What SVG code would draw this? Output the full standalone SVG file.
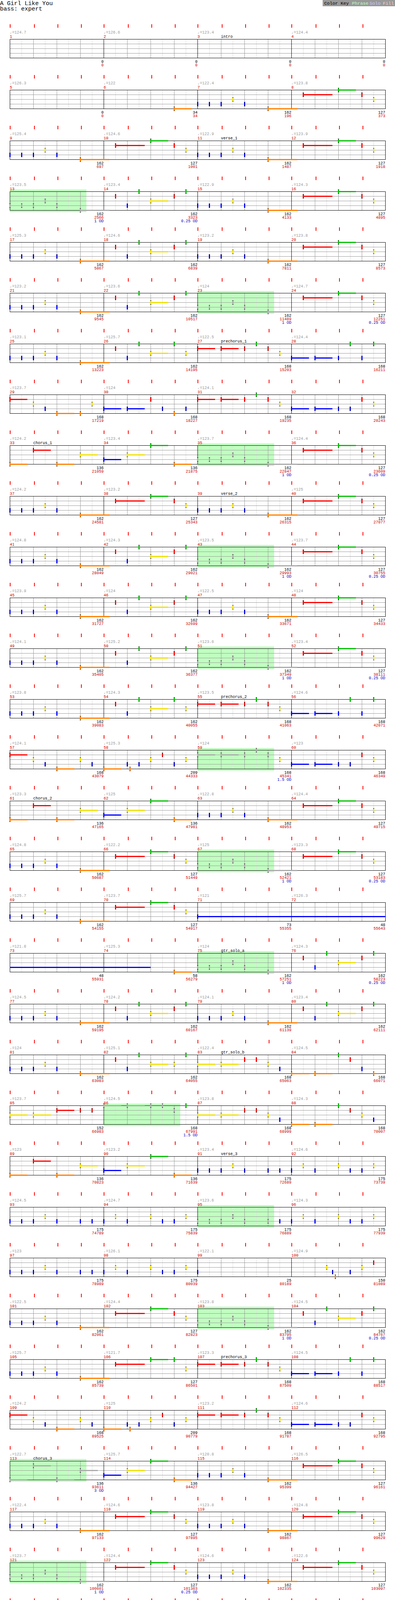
<svg xmlns="http://www.w3.org/2000/svg" width="1010" height="5055" viewBox="0 0 1010 5055">
<style>
text{font-family:"Liberation Mono","DejaVu Sans Mono",monospace;font-size:10px;fill:#000}
.tp{fill:#999}
.mn{fill:#c00}
.s0{text-anchor:end}
.s1{text-anchor:end;fill:#c00}
.od{text-anchor:end;fill:#00c}
.big{font-size:15px}
.mid{font-size:11.67px}
.cG{fill:#00c000}.cR{fill:#f00}.cY{fill:#f0e000}.cB{fill:#00f}.cO{fill:#ff8000}.cS{fill:#aaa}
.tk{fill:#f00}
.box{fill:#c0ffc0}
</style>
<defs>
<g id="nG"><rect class="cG" x="-1" y="-5.5" width="3" height="11"/><rect x="-1" y="-5.5" width="3" height="1"/><rect x="-1" y="4.5" width="3" height="1"/></g>
<g id="nR"><rect class="cR" x="-1" y="-5.5" width="3" height="11"/><rect x="-1" y="-5.5" width="3" height="1"/><rect x="-1" y="4.5" width="3" height="1"/></g>
<g id="nY"><rect class="cY" x="-1" y="-5.5" width="3" height="11"/><rect x="-1" y="-5.5" width="3" height="1"/><rect x="-1" y="4.5" width="3" height="1"/></g>
<g id="nB"><rect class="cB" x="-1" y="-5.5" width="3" height="11"/><rect x="-1" y="-5.5" width="3" height="1"/><rect x="-1" y="4.5" width="3" height="1"/></g>
<g id="nO"><rect class="cO" x="-1" y="-5.5" width="3" height="11"/><rect x="-1" y="-5.5" width="3" height="1"/><rect x="-1" y="4.5" width="3" height="1"/></g>
<g id="nS"><rect class="cS" x="-1" y="-5.5" width="3" height="11"/><rect x="-1" y="-5.5" width="3" height="1"/><rect x="-1" y="4.5" width="3" height="1"/></g>
<g id="grid">
<path d="M30.5 0V48M90.5 0V48M150.5 0V48M210.5 0V48" stroke="#ddd" fill="none"/>
<path d="M60.5 0V48M120.5 0V48M180.5 0V48M0 12.5H240M0 24.5H240M0 36.5H240" stroke="#999" fill="none"/>
</g>
<g id="tk"><rect class="tk" x="0" y="-38" width="2" height="9"/><rect class="tk" x="62" y="-38" width="2" height="9"/><rect class="tk" x="122" y="-38" width="2" height="9"/><rect class="tk" x="182" y="-38" width="2" height="9"/></g>
<g id="frame">
<use href="#tk" x="25"/><use href="#tk" x="265"/><use href="#tk" x="505"/><use href="#tk" x="745"/>
<use href="#grid" x="25"/><use href="#grid" x="265"/><use href="#grid" x="505"/><use href="#grid" x="745"/>
<rect x="25.5" y="0.5" width="960" height="48" fill="none" stroke="#000"/>
<path d="M265.5 0V48M505.5 0V48M745.5 0V48" stroke="#000" fill="none"/>
</g>
<g id="frame1">
<use href="#tk" x="25"/><use href="#grid" x="25"/>
<rect x="25.5" y="0.5" width="240" height="48" fill="none" stroke="#000"/>
</g>
<g id="pA"><rect class="cO" x="180" y="47" width="75" height="3"/><use href="#nB" y="36.5"/><use href="#nB" x="30" y="36.5"/><use href="#nB" x="60" y="36.5"/><use href="#nY" x="90" y="24.5"/><use href="#nB" x="120" y="36.5"/><use href="#nO" x="180" y="48.5"/></g>
<g id="pAs"><rect class="cS" x="180" y="47" width="75" height="3"/><use href="#nS" y="36.5"/><use href="#nS" x="30" y="36.5"/><use href="#nS" x="60" y="36.5"/><use href="#nS" x="90" y="24.5"/><use href="#nS" x="120" y="36.5"/><use href="#nS" x="180" y="48.5"/></g>
<g id="pA0"><use href="#nB" y="36.5"/><use href="#nB" x="30" y="36.5"/><use href="#nB" x="60" y="36.5"/><use href="#nY" x="90" y="24.5"/><use href="#nB" x="120" y="36.5"/></g>
<g id="pB"><rect class="cR" x="30" y="11" width="75" height="3"/><rect class="cG" x="120" y="-1" width="45" height="3"/><use href="#nR" x="30" y="12.5"/><use href="#nG" x="120" y="0.5"/><use href="#nR" x="180" y="12.5"/><use href="#nY" x="210" y="24.5"/></g>
<g id="pB2"><rect class="cR" x="30" y="11" width="75" height="3"/><rect class="cG" x="120" y="-1" width="45" height="3"/><use href="#nR" x="30" y="12.5"/><use href="#nG" x="120" y="0.5"/><use href="#nG" x="180" y="0.5"/><use href="#nY" x="210" y="24.5"/></g>
<g id="pE"><rect class="cY" x="120" y="23" width="45" height="3"/><use href="#nR" x="30" y="12.5"/><use href="#nB" x="60" y="36.5"/><use href="#nG" x="90" y="0.5"/><use href="#nY" x="120" y="24.5"/><use href="#nR" x="180" y="12.5"/><use href="#nG" x="210" y="0.5"/></g>
<g id="pE2"><rect class="cY" x="120" y="23" width="45" height="3"/><use href="#nR" x="30" y="12.5"/><use href="#nB" x="60" y="36.5"/><use href="#nG" x="90" y="0.5"/><use href="#nY" x="120" y="24.5"/><use href="#nG" x="180" y="0.5"/><use href="#nY" x="210" y="24.5"/></g>
<g id="pE3"><rect class="cY" x="120" y="23" width="45" height="3"/><use href="#nR" x="30" y="12.5"/><use href="#nB" x="60" y="36.5"/><use href="#nG" x="90" y="0.5"/><use href="#nY" x="120" y="24.5"/><use href="#nY" x="180" y="24.5"/><use href="#nG" x="210" y="0.5"/></g>
<g id="pF"><use href="#nR" x="30" y="12.5"/><use href="#nB" x="60" y="36.5"/><use href="#nG" x="90" y="0.5"/><use href="#nY" x="120" y="24.5"/><use href="#nG" x="150" y="0.5"/><use href="#nR" x="180" y="12.5"/><use href="#nG" x="210" y="0.5"/></g>
<g id="pP1"><rect class="cR" x="0" y="11" width="45" height="3"/><rect class="cR" x="60" y="11" width="45" height="3"/><use href="#nR" y="12.5"/><use href="#nR" x="60" y="12.5"/><use href="#nR" x="120" y="12.5"/><use href="#nG" x="150" y="0.5"/><use href="#nR" x="180" y="12.5"/><use href="#nY" x="210" y="24.5"/></g>
<g id="pP1s"><rect class="cS" x="0" y="11" width="45" height="3"/><rect class="cS" x="60" y="11" width="45" height="3"/><use href="#nS" y="12.5"/><use href="#nS" x="60" y="12.5"/><use href="#nS" x="120" y="12.5"/><use href="#nS" x="150" y="0.5"/><use href="#nS" x="180" y="12.5"/><use href="#nY" x="210" y="24.5"/></g>
<g id="pP2"><rect class="cB" x="0" y="35" width="45" height="3"/><rect class="cB" x="60" y="35" width="45" height="3"/><use href="#nB" y="36.5"/><use href="#nB" x="60" y="36.5"/><use href="#nB" x="120" y="36.5"/><use href="#nG" x="150" y="0.5"/><use href="#nB" x="180" y="36.5"/><use href="#nG" x="210" y="0.5"/></g>
<g id="pP3"><rect class="cB" x="0" y="35" width="45" height="3"/><rect class="cB" x="60" y="35" width="45" height="3"/><use href="#nB" y="36.5"/><use href="#nB" x="60" y="36.5"/><use href="#nB" x="120" y="36.5"/><use href="#nB" x="150" y="36.5"/><use href="#nR" x="180" y="12.5"/><use href="#nY" x="210" y="24.5"/></g>
<g id="pQ1"><rect class="cR" x="0" y="11" width="45" height="3"/><rect class="cO" x="120" y="47" width="45" height="3"/><use href="#nR" y="12.5"/><use href="#nY" x="60" y="24.5"/><use href="#nB" x="90" y="36.5"/><use href="#nO" x="120" y="48.5"/><use href="#nO" x="180" y="48.5"/><use href="#nY" x="210" y="24.5"/></g>
<g id="pQ2"><rect class="cB" x="0" y="35" width="45" height="3"/><rect class="cB" x="60" y="35" width="45" height="3"/><use href="#nB" y="36.5"/><use href="#nB" x="60" y="36.5"/><use href="#nR" x="120" y="12.5"/><use href="#nB" x="150" y="36.5"/><use href="#nO" x="180" y="48.5"/><use href="#nB" x="210" y="36.5"/></g>
<g id="pQ3"><rect class="cR" x="0" y="11" width="45" height="3"/><rect class="cO" x="120" y="47" width="45" height="3"/><use href="#nR" y="12.5"/><use href="#nY" x="60" y="24.5"/><use href="#nB" x="90" y="36.5"/><use href="#nO" x="120" y="48.5"/><use href="#nY" x="180" y="24.5"/><use href="#nB" x="210" y="36.5"/></g>
<g id="pQ4"><rect class="cO" x="0" y="47" width="45" height="3"/><use href="#nO" y="48.5"/><use href="#nB" x="60" y="36.5"/><use href="#nO" x="67" y="48.5"/><use href="#nB" x="90" y="36.5"/><use href="#nY" x="120" y="24.5"/><use href="#nR" x="150" y="12.5"/><use href="#nB" x="180" y="36.5"/><use href="#nY" x="210" y="24.5"/></g>
<g id="pC1"><rect class="cO" x="0" y="47" width="45" height="3"/><rect class="cR" x="60" y="11" width="45" height="3"/><rect class="cO" x="120" y="47" width="45" height="3"/><rect class="cY" x="180" y="23" width="45" height="3"/><use href="#nO" y="48.5"/><use href="#nR" x="60" y="12.5"/><use href="#nO" x="120" y="48.5"/><use href="#nY" x="180" y="24.5"/></g>
<g id="pC1s"><rect class="cS" x="0" y="47" width="45" height="3"/><rect class="cS" x="60" y="11" width="45" height="3"/><rect class="cS" x="120" y="47" width="45" height="3"/><rect class="cS" x="180" y="23" width="45" height="3"/><use href="#nS" y="48.5"/><use href="#nS" x="60" y="12.5"/><use href="#nS" x="120" y="48.5"/><use href="#nS" x="180" y="24.5"/></g>
<g id="pC2"><rect class="cB" x="0" y="35" width="45" height="3"/><rect class="cY" x="60" y="23" width="45" height="3"/><rect class="cG" x="120" y="-1" width="45" height="3"/><rect class="cO" x="180" y="47" width="45" height="3"/><use href="#nB" y="36.5"/><use href="#nY" x="60" y="24.5"/><use href="#nG" x="120" y="0.5"/><use href="#nO" x="180" y="48.5"/></g>
<g id="pS1"><rect class="cY" x="0" y="23" width="45" height="3"/><rect class="cY" x="60" y="23" width="45" height="3"/><use href="#nY" y="24.5"/><use href="#nY" x="60" y="24.5"/><use href="#nR" x="120" y="12.5"/><use href="#nR" x="150" y="12.5"/><use href="#nY" x="180" y="24.5"/><use href="#nB" x="210" y="36.5"/></g>
<g id="pS2"><rect class="cO" x="0" y="47" width="45" height="3"/><rect class="cO" x="60" y="47" width="45" height="3"/><use href="#nO" y="48.5"/><use href="#nO" x="60" y="48.5"/><use href="#nG" x="120" y="0.5"/><use href="#nR" x="150" y="12.5"/><use href="#nB" x="180" y="36.5"/><use href="#nO" x="210" y="48.5"/></g>
<g id="pS3"><rect class="cO" x="0" y="47" width="45" height="3"/><rect class="cO" x="60" y="47" width="45" height="3"/><use href="#nO" y="48.5"/><use href="#nO" x="60" y="48.5"/><use href="#nG" x="120" y="0.5"/><use href="#nR" x="150" y="12.5"/><use href="#nY" x="180" y="24.5"/><use href="#nB" x="210" y="36.5"/></g>
<g id="pS4"><rect class="cY" x="0" y="23" width="45" height="3"/><rect class="cY" x="60" y="23" width="45" height="3"/><rect class="cR" x="120" y="11" width="45" height="3"/><use href="#nY" y="24.5"/><use href="#nY" x="60" y="24.5"/><use href="#nR" x="120" y="12.5"/><use href="#nR" x="180" y="12.5"/><use href="#nR" x="210" y="12.5"/></g>
<g id="pS5s"><rect class="cS" x="0" y="-1" width="45" height="3"/><rect class="cS" x="60" y="-1" width="45" height="3"/><use href="#nS" y="0.5"/><use href="#nS" x="60" y="0.5"/><use href="#nS" x="120" y="0.5"/><use href="#nS" x="150" y="0.5"/><use href="#nS" x="180" y="12.5"/><use href="#nG" x="210" y="0.5"/></g>
<g id="pV1"><use href="#nB" y="36.5"/><use href="#nB" x="30" y="36.5"/><use href="#nB" x="60" y="36.5"/><use href="#nY" x="90" y="24.5"/><use href="#nB" x="120" y="36.5"/><use href="#nB" x="180" y="36.5"/><use href="#nB" x="210" y="36.5"/></g>
<g id="pV1s"><use href="#nS" y="36.5"/><use href="#nS" x="30" y="36.5"/><use href="#nS" x="60" y="36.5"/><use href="#nS" x="90" y="24.5"/><use href="#nS" x="120" y="36.5"/><use href="#nS" x="180" y="36.5"/><use href="#nB" x="210" y="36.5"/></g>
<g id="pV2"><use href="#nB" y="36.5"/><use href="#nY" x="30" y="24.5"/><use href="#nB" x="60" y="36.5"/><use href="#nY" x="120" y="24.5"/><use href="#nB" x="150" y="36.5"/><use href="#nB" x="180" y="36.5"/><use href="#nY" x="210" y="24.5"/></g>
</defs>
<rect width="1010" height="5055" fill="#fff"/>
<g id="header">
<text class="big" x="0" y="13">A Girl Like You</text>
<text class="big" x="0" y="27">bass: expert</text>
<rect x="825" y="0" width="185" height="16" fill="#999"/>
<text class="mid" x="829" y="12">Color Key</text>
<text class="mid" x="900" y="12" style="fill:#c0ffc0">Phrase</text>
<text class="mid" x="945" y="12" style="fill:#ccf">Solo</text>
<text class="mid" x="979" y="12" style="fill:#fcc">Fill</text>
</g>

<g id="row-1" transform="translate(0,100)">
<use href="#frame"/>
<text class="tp" x="25" y="-14">♩=124.7</text><text class="tp" x="265" y="-14">♩=126.6</text><text class="tp" x="505" y="-14">♩=123.4</text><text class="tp" x="745" y="-14">♩=124.4</text>
<text class="mn" x="25" y="-3">1</text><text class="mn" x="265" y="-3">2</text><text class="mn" x="505" y="-3">3</text><text class="mn" x="745" y="-3">4</text>
<text x="565" y="-3">intro</text>
<text class="s0" x="265" y="61">0</text><text class="s1" x="265" y="70">0</text><text class="s0" x="505" y="61">0</text><text class="s1" x="505" y="70">0</text><text class="s0" x="745" y="61">0</text><text class="s1" x="745" y="70">0</text><text class="s0" x="985" y="61">0</text><text class="s1" x="985" y="70">0</text>
</g>

<g id="row-2" transform="translate(0,230)">
<use href="#frame"/>
<rect class="cO" x="445" y="47" width="45" height="3"/><use href="#nO" x="445" y="48.5"/>
<use href="#pA" x="505"/><use href="#pB" x="745"/>
<text class="tp" x="25" y="-14">♩=126.3</text><text class="tp" x="265" y="-14">♩=122</text><text class="tp" x="505" y="-14">♩=122.4</text><text class="tp" x="745" y="-14">♩=123.8</text>
<text class="mn" x="25" y="-3">5</text><text class="mn" x="265" y="-3">6</text><text class="mn" x="505" y="-3">7</text><text class="mn" x="745" y="-3">8</text>
<text class="s0" x="265" y="61">0</text><text class="s1" x="265" y="70">0</text><text class="s0" x="505" y="61">34</text><text class="s1" x="505" y="70">34</text><text class="s0" x="745" y="61">162</text><text class="s1" x="745" y="70">196</text><text class="s0" x="985" y="61">127</text><text class="s1" x="985" y="70">373</text>
</g>

<g id="row-3" transform="translate(0,360)">
<use href="#frame"/>
<use href="#pA" x="25"/><use href="#pB" x="265"/><use href="#pA" x="505"/><use href="#pB" x="745"/>
<text class="tp" x="25" y="-14">♩=125.4</text><text class="tp" x="265" y="-14">♩=124.6</text><text class="tp" x="505" y="-14">♩=122.9</text><text class="tp" x="745" y="-14">♩=123.9</text>
<text class="mn" x="25" y="-3">9</text><text class="mn" x="265" y="-3">10</text><text class="mn" x="505" y="-3">11</text><text class="mn" x="745" y="-3">12</text>
<text x="565" y="-3">verse_1</text>
<text class="s0" x="265" y="61">162</text><text class="s1" x="265" y="70">697</text><text class="s0" x="505" y="61">127</text><text class="s1" x="505" y="70">1001</text><text class="s0" x="745" y="61">162</text><text class="s1" x="745" y="70">1487</text><text class="s0" x="985" y="61">127</text><text class="s1" x="985" y="70">1918</text>
</g>

<g id="row-4" transform="translate(0,490)">
<rect class="box" x="25" y="-5" width="196" height="58"/>
<use href="#frame"/>
<use href="#pAs" x="25"/><use href="#pE" x="265"/><use href="#pA" x="505"/><use href="#pB" x="745"/>
<text class="tp" x="25" y="-14">♩=123.5</text><text class="tp" x="265" y="-14">♩=123.4</text><text class="tp" x="505" y="-14">♩=122.9</text><text class="tp" x="745" y="-14">♩=124.3</text>
<text class="mn" x="25" y="-3">13</text><text class="mn" x="265" y="-3">14</text><text class="mn" x="505" y="-3">15</text><text class="mn" x="745" y="-3">16</text>
<text class="s0" x="265" y="61">162</text><text class="s1" x="265" y="70">2566</text><text class="s0" x="505" y="61">162</text><text class="s1" x="505" y="70">3323</text><text class="s0" x="745" y="61">162</text><text class="s1" x="745" y="70">4133</text><text class="s0" x="985" y="61">127</text><text class="s1" x="985" y="70">4895</text>
<text class="od" x="265" y="79">1 OD</text><text class="od" x="505" y="79">0.25 OD</text>
</g>

<g id="row-5" transform="translate(0,620)">
<use href="#frame"/>
<use href="#pA" x="25"/><use href="#pE" x="265"/><use href="#pA" x="505"/><use href="#pB" x="745"/>
<text class="tp" x="25" y="-14">♩=125.3</text><text class="tp" x="265" y="-14">♩=124.6</text><text class="tp" x="505" y="-14">♩=123.2</text><text class="tp" x="745" y="-14">♩=123.8</text>
<text class="mn" x="25" y="-3">17</text><text class="mn" x="265" y="-3">18</text><text class="mn" x="505" y="-3">19</text><text class="mn" x="745" y="-3">20</text>
<text class="s0" x="265" y="61">162</text><text class="s1" x="265" y="70">5867</text><text class="s0" x="505" y="61">162</text><text class="s1" x="505" y="70">6839</text><text class="s0" x="745" y="61">162</text><text class="s1" x="745" y="70">7811</text><text class="s0" x="985" y="61">127</text><text class="s1" x="985" y="70">8573</text>
</g>

<g id="row-6" transform="translate(0,750)">
<rect class="box" x="505" y="-5" width="196" height="58"/>
<use href="#frame"/>
<use href="#pA" x="25"/><use href="#pE" x="265"/><use href="#pAs" x="505"/><use href="#pB" x="745"/>
<text class="tp" x="25" y="-14">♩=123.2</text><text class="tp" x="265" y="-14">♩=123.6</text><text class="tp" x="505" y="-14">♩=124</text><text class="tp" x="745" y="-14">♩=124.7</text>
<text class="mn" x="25" y="-3">21</text><text class="mn" x="265" y="-3">22</text><text class="mn" x="505" y="-3">23</text><text class="mn" x="745" y="-3">24</text>
<text class="s0" x="265" y="61">162</text><text class="s1" x="265" y="70">9545</text><text class="s0" x="505" y="61">162</text><text class="s1" x="505" y="70">10517</text><text class="s0" x="745" y="61">162</text><text class="s1" x="745" y="70">11489</text><text class="s0" x="985" y="61">127</text><text class="s1" x="985" y="70">12251</text>
<text class="od" x="745" y="79">1 OD</text><text class="od" x="985" y="79">0.25 OD</text>
</g>

<g id="row-7" transform="translate(0,880)">
<use href="#frame"/>
<use href="#pA" x="25"/><use href="#pE2" x="265"/><use href="#pP1" x="505"/><use href="#pP2" x="745"/>
<text class="tp" x="25" y="-14">♩=123.1</text><text class="tp" x="265" y="-14">♩=125.7</text><text class="tp" x="505" y="-14">♩=122.5</text><text class="tp" x="745" y="-14">♩=124.4</text>
<text class="mn" x="25" y="-3">25</text><text class="mn" x="265" y="-3">26</text><text class="mn" x="505" y="-3">27</text><text class="mn" x="745" y="-3">28</text>
<text x="565" y="-3">prechorus_1</text>
<text class="s0" x="265" y="61">162</text><text class="s1" x="265" y="70">13223</text><text class="s0" x="505" y="61">162</text><text class="s1" x="505" y="70">14195</text><text class="s0" x="745" y="61">168</text><text class="s1" x="745" y="70">15203</text><text class="s0" x="985" y="61">168</text><text class="s1" x="985" y="70">16211</text>
</g>

<g id="row-8" transform="translate(0,1010)">
<use href="#frame"/>
<use href="#pQ1" x="25"/><use href="#pQ2" x="265"/><use href="#pP1" x="505"/><use href="#pP3" x="745"/>
<text class="tp" x="25" y="-14">♩=123.7</text><text class="tp" x="265" y="-14">♩=124</text><text class="tp" x="505" y="-14">♩=124.1</text>
<text class="mn" x="25" y="-3">29</text><text class="mn" x="265" y="-3">30</text><text class="mn" x="505" y="-3">31</text><text class="mn" x="745" y="-3">32</text>
<text class="s0" x="265" y="61">168</text><text class="s1" x="265" y="70">17219</text><text class="s0" x="505" y="61">168</text><text class="s1" x="505" y="70">18227</text><text class="s0" x="745" y="61">168</text><text class="s1" x="745" y="70">19235</text><text class="s0" x="985" y="61">168</text><text class="s1" x="985" y="70">20243</text>
</g>

<g id="row-9" transform="translate(0,1140)">
<rect class="box" x="505" y="-5" width="196" height="58"/>
<use href="#frame"/>
<use href="#pC1" x="25"/><use href="#pC2" x="265"/><use href="#pAs" x="505"/><use href="#pB" x="745"/>
<text class="tp" x="25" y="-14">♩=124.2</text><text class="tp" x="265" y="-14">♩=123.4</text><text class="tp" x="505" y="-14">♩=123.7</text><text class="tp" x="745" y="-14">♩=124.4</text>
<text class="mn" x="25" y="-3">33</text><text class="mn" x="265" y="-3">34</text><text class="mn" x="505" y="-3">35</text><text class="mn" x="745" y="-3">36</text>
<text x="85" y="-3">chorus_1</text>
<text class="s0" x="265" y="61">136</text><text class="s1" x="265" y="70">21059</text><text class="s0" x="505" y="61">136</text><text class="s1" x="505" y="70">21875</text><text class="s0" x="745" y="61">162</text><text class="s1" x="745" y="70">22847</text><text class="s0" x="985" y="61">127</text><text class="s1" x="985" y="70">23609</text>
<text class="od" x="745" y="79">1 OD</text><text class="od" x="985" y="79">0.25 OD</text>
</g>

<g id="row-10" transform="translate(0,1270)">
<use href="#frame"/>
<use href="#pA" x="25"/><use href="#pB" x="265"/><use href="#pA" x="505"/><use href="#pB" x="745"/>
<text class="tp" x="25" y="-14">♩=124.2</text><text class="tp" x="265" y="-14">♩=123.2</text><text class="tp" x="745" y="-14">♩=125</text>
<text class="mn" x="25" y="-3">37</text><text class="mn" x="265" y="-3">38</text><text class="mn" x="505" y="-3">39</text><text class="mn" x="745" y="-3">40</text>
<text x="565" y="-3">verse_2</text>
<text class="s0" x="265" y="61">162</text><text class="s1" x="265" y="70">24581</text><text class="s0" x="505" y="61">127</text><text class="s1" x="505" y="70">25343</text><text class="s0" x="745" y="61">162</text><text class="s1" x="745" y="70">26315</text><text class="s0" x="985" y="61">127</text><text class="s1" x="985" y="70">27077</text>
</g>

<g id="row-11" transform="translate(0,1400)">
<rect class="box" x="505" y="-5" width="196" height="58"/>
<use href="#frame"/>
<use href="#pA" x="25"/><use href="#pE" x="265"/><use href="#pAs" x="505"/><use href="#pB" x="745"/>
<text class="tp" x="25" y="-14">♩=124.8</text><text class="tp" x="265" y="-14">♩=124.3</text><text class="tp" x="505" y="-14">♩=123.5</text><text class="tp" x="745" y="-14">♩=123.7</text>
<text class="mn" x="25" y="-3">41</text><text class="mn" x="265" y="-3">42</text><text class="mn" x="505" y="-3">43</text><text class="mn" x="745" y="-3">44</text>
<text class="s0" x="265" y="61">162</text><text class="s1" x="265" y="70">28049</text><text class="s0" x="505" y="61">162</text><text class="s1" x="505" y="70">29021</text><text class="s0" x="745" y="61">162</text><text class="s1" x="745" y="70">29993</text><text class="s0" x="985" y="61">127</text><text class="s1" x="985" y="70">30755</text>
<text class="od" x="745" y="79">1 OD</text><text class="od" x="985" y="79">0.25 OD</text>
</g>

<g id="row-12" transform="translate(0,1530)">
<use href="#frame"/>
<use href="#pA" x="25"/><use href="#pE" x="265"/><use href="#pA" x="505"/><use href="#pB" x="745"/>
<text class="tp" x="25" y="-14">♩=123.9</text><text class="tp" x="265" y="-14">♩=124</text><text class="tp" x="505" y="-14">♩=122.5</text><text class="tp" x="745" y="-14">♩=124</text>
<text class="mn" x="25" y="-3">45</text><text class="mn" x="265" y="-3">46</text><text class="mn" x="505" y="-3">47</text><text class="mn" x="745" y="-3">48</text>
<text class="s0" x="265" y="61">162</text><text class="s1" x="265" y="70">31727</text><text class="s0" x="505" y="61">162</text><text class="s1" x="505" y="70">32699</text><text class="s0" x="745" y="61">162</text><text class="s1" x="745" y="70">33671</text><text class="s0" x="985" y="61">127</text><text class="s1" x="985" y="70">34433</text>
</g>

<g id="row-13" transform="translate(0,1660)">
<rect class="box" x="505" y="-5" width="196" height="58"/>
<use href="#frame"/>
<use href="#pA" x="25"/><use href="#pE" x="265"/><use href="#pAs" x="505"/><use href="#pB" x="745"/>
<text class="tp" x="25" y="-14">♩=124.1</text><text class="tp" x="265" y="-14">♩=125.2</text><text class="tp" x="505" y="-14">♩=123.6</text><text class="tp" x="745" y="-14">♩=123.4</text>
<text class="mn" x="25" y="-3">49</text><text class="mn" x="265" y="-3">50</text><text class="mn" x="505" y="-3">51</text><text class="mn" x="745" y="-3">52</text>
<text class="s0" x="265" y="61">162</text><text class="s1" x="265" y="70">35405</text><text class="s0" x="505" y="61">162</text><text class="s1" x="505" y="70">36377</text><text class="s0" x="745" y="61">162</text><text class="s1" x="745" y="70">37349</text><text class="s0" x="985" y="61">127</text><text class="s1" x="985" y="70">38111</text>
<text class="od" x="745" y="79">1 OD</text><text class="od" x="985" y="79">0.25 OD</text>
</g>

<g id="row-14" transform="translate(0,1790)">
<use href="#frame"/>
<use href="#pA" x="25"/><use href="#pE2" x="265"/><use href="#pP1" x="505"/><use href="#pP2" x="745"/>
<text class="tp" x="25" y="-14">♩=123.8</text><text class="tp" x="265" y="-14">♩=124.3</text><text class="tp" x="505" y="-14">♩=123.5</text><text class="tp" x="745" y="-14">♩=124.6</text>
<text class="mn" x="25" y="-3">53</text><text class="mn" x="265" y="-3">54</text><text class="mn" x="505" y="-3">55</text><text class="mn" x="745" y="-3">56</text>
<text x="565" y="-3">prechorus_2</text>
<text class="s0" x="265" y="61">162</text><text class="s1" x="265" y="70">39083</text><text class="s0" x="505" y="61">162</text><text class="s1" x="505" y="70">40055</text><text class="s0" x="745" y="61">168</text><text class="s1" x="745" y="70">41063</text><text class="s0" x="985" y="61">168</text><text class="s1" x="985" y="70">42071</text>
</g>

<g id="row-15" transform="translate(0,1920)">
<rect class="box" x="505" y="-5" width="196" height="58"/>
<use href="#frame"/>
<use href="#pQ3" x="25"/><use href="#pQ4" x="265"/><use href="#pP1s" x="505"/><use href="#pP3" x="745"/>
<text class="tp" x="25" y="-14">♩=124.1</text><text class="tp" x="265" y="-14">♩=125.3</text><text class="tp" x="505" y="-14">♩=124</text><text class="tp" x="745" y="-14">♩=123</text>
<text class="mn" x="25" y="-3">57</text><text class="mn" x="265" y="-3">58</text><text class="mn" x="505" y="-3">59</text><text class="mn" x="745" y="-3">60</text>
<text class="s0" x="265" y="61">168</text><text class="s1" x="265" y="70">43079</text><text class="s0" x="505" y="61">209</text><text class="s1" x="505" y="70">44333</text><text class="s0" x="745" y="61">168</text><text class="s1" x="745" y="70">45341</text><text class="s0" x="985" y="61">168</text><text class="s1" x="985" y="70">46349</text>
<text class="od" x="745" y="79">1.5 OD</text>
</g>

<g id="row-16" transform="translate(0,2050)">
<use href="#frame"/>
<use href="#pC1" x="25"/><use href="#pC2" x="265"/><use href="#pA" x="505"/><use href="#pB" x="745"/>
<text class="tp" x="25" y="-14">♩=123.3</text><text class="tp" x="265" y="-14">♩=125</text><text class="tp" x="505" y="-14">♩=122.8</text><text class="tp" x="745" y="-14">♩=124.4</text>
<text class="mn" x="25" y="-3">61</text><text class="mn" x="265" y="-3">62</text><text class="mn" x="505" y="-3">63</text><text class="mn" x="745" y="-3">64</text>
<text x="85" y="-3">chorus_2</text>
<text class="s0" x="265" y="61">136</text><text class="s1" x="265" y="70">47165</text><text class="s0" x="505" y="61">136</text><text class="s1" x="505" y="70">47981</text><text class="s0" x="745" y="61">162</text><text class="s1" x="745" y="70">48953</text><text class="s0" x="985" y="61">127</text><text class="s1" x="985" y="70">49715</text>
</g>

<g id="row-17" transform="translate(0,2180)">
<rect class="box" x="505" y="-5" width="196" height="58"/>
<use href="#frame"/>
<use href="#pA" x="25"/><use href="#pB" x="265"/><use href="#pAs" x="505"/><use href="#pB" x="745"/>
<text class="tp" x="25" y="-14">♩=124.8</text><text class="tp" x="265" y="-14">♩=122.2</text><text class="tp" x="505" y="-14">♩=125</text><text class="tp" x="745" y="-14">♩=123.3</text>
<text class="mn" x="25" y="-3">65</text><text class="mn" x="265" y="-3">66</text><text class="mn" x="505" y="-3">67</text><text class="mn" x="745" y="-3">68</text>
<text class="s0" x="265" y="61">162</text><text class="s1" x="265" y="70">50687</text><text class="s0" x="505" y="61">127</text><text class="s1" x="505" y="70">51449</text><text class="s0" x="745" y="61">162</text><text class="s1" x="745" y="70">52421</text><text class="s0" x="985" y="61">127</text><text class="s1" x="985" y="70">53183</text>
<text class="od" x="745" y="79">1 OD</text><text class="od" x="985" y="79">0.25 OD</text>
</g>

<g id="row-18" transform="translate(0,2310)">
<use href="#frame"/>
<use href="#pA" x="25"/><use href="#pB" x="265"/>
<rect class="cB" x="505" y="35" width="480" height="3"/><use href="#nB" x="505" y="36.5"/>
<text class="tp" x="25" y="-14">♩=125.7</text><text class="tp" x="265" y="-14">♩=123.7</text><text class="tp" x="505" y="-14">♩=121</text><text class="tp" x="745" y="-14">♩=126.3</text>
<text class="mn" x="25" y="-3">69</text><text class="mn" x="265" y="-3">70</text><text class="mn" x="505" y="-3">71</text><text class="mn" x="745" y="-3">72</text>
<text class="s0" x="265" y="61">162</text><text class="s1" x="265" y="70">54155</text><text class="s0" x="505" y="61">127</text><text class="s1" x="505" y="70">54917</text><text class="s0" x="745" y="61">73</text><text class="s1" x="745" y="70">55355</text><text class="s0" x="985" y="61">48</text><text class="s1" x="985" y="70">55643</text>
</g>

<g id="row-19" transform="translate(0,2440)">
<rect class="box" x="505" y="-5" width="196" height="58"/>
<use href="#frame"/>
<rect class="cB" x="25" y="35" width="360" height="3"/>
<rect class="cO" x="445" y="47" width="45" height="3"/><use href="#nO" x="445" y="48.5"/>
<use href="#pAs" x="505"/><use href="#pE" x="745"/>
<text class="tp" x="25" y="-14">♩=121.8</text><text class="tp" x="265" y="-14">♩=125.3</text><text class="tp" x="505" y="-14">♩=124</text><text class="tp" x="745" y="-14">♩=124.3</text>
<text class="mn" x="25" y="-3">73</text><text class="mn" x="265" y="-3">74</text><text class="mn" x="505" y="-3">75</text><text class="mn" x="745" y="-3">76</text>
<text x="565" y="-3">gtr_solo_a</text>
<text class="s0" x="265" y="61">48</text><text class="s1" x="265" y="70">55931</text><text class="s0" x="505" y="61">58</text><text class="s1" x="505" y="70">56279</text><text class="s0" x="745" y="61">162</text><text class="s1" x="745" y="70">57251</text><text class="s0" x="985" y="61">162</text><text class="s1" x="985" y="70">58223</text>
<text class="od" x="745" y="79">1 OD</text><text class="od" x="985" y="79">0.25 OD</text>
</g>

<g id="row-20" transform="translate(0,2570)">
<use href="#frame"/>
<use href="#pA" x="25"/><use href="#pE" x="265"/><use href="#pA" x="505"/><use href="#pE" x="745"/>
<text class="tp" x="25" y="-14">♩=124.5</text><text class="tp" x="265" y="-14">♩=124.2</text><text class="tp" x="505" y="-14">♩=124.1</text><text class="tp" x="745" y="-14">♩=123.4</text>
<text class="mn" x="25" y="-3">77</text><text class="mn" x="265" y="-3">78</text><text class="mn" x="505" y="-3">79</text><text class="mn" x="745" y="-3">80</text>
<text class="s0" x="265" y="61">162</text><text class="s1" x="265" y="70">59195</text><text class="s0" x="505" y="61">162</text><text class="s1" x="505" y="70">60167</text><text class="s0" x="745" y="61">162</text><text class="s1" x="745" y="70">61139</text><text class="s0" x="985" y="61">162</text><text class="s1" x="985" y="70">62111</text>
</g>

<g id="row-21" transform="translate(0,2700)">
<use href="#frame"/>
<use href="#pA" x="25"/><use href="#pE3" x="265"/><use href="#pS1" x="505"/><use href="#pS2" x="745"/>
<text class="tp" x="25" y="-14">♩=124</text><text class="tp" x="265" y="-14">♩=125.1</text><text class="tp" x="505" y="-14">♩=122.4</text><text class="tp" x="745" y="-14">♩=124.5</text>
<text class="mn" x="25" y="-3">81</text><text class="mn" x="265" y="-3">82</text><text class="mn" x="505" y="-3">83</text><text class="mn" x="745" y="-3">84</text>
<text x="565" y="-3">gtr_solo_b</text>
<text class="s0" x="265" y="61">162</text><text class="s1" x="265" y="70">63083</text><text class="s0" x="505" y="61">162</text><text class="s1" x="505" y="70">64055</text><text class="s0" x="745" y="61">168</text><text class="s1" x="745" y="70">65063</text><text class="s0" x="985" y="61">168</text><text class="s1" x="985" y="70">66071</text>
</g>

<g id="row-22" transform="translate(0,2830)">
<rect class="box" x="265" y="-5" width="196" height="58"/>
<use href="#frame"/>
<use href="#pS4" x="25"/><use href="#pS5s" x="265"/><use href="#pS1" x="505"/><use href="#pS3" x="745"/>
<text class="tp" x="25" y="-14">♩=123.7</text><text class="tp" x="265" y="-14">♩=124.5</text><text class="tp" x="505" y="-14">♩=123.8</text><text class="tp" x="745" y="-14">♩=124.3</text>
<text class="mn" x="25" y="-3">85</text><text class="mn" x="265" y="-3">86</text><text class="mn" x="505" y="-3">87</text><text class="mn" x="745" y="-3">88</text>
<text class="s0" x="265" y="61">152</text><text class="s1" x="265" y="70">66983</text><text class="s0" x="505" y="61">168</text><text class="s1" x="505" y="70">67991</text><text class="s0" x="745" y="61">168</text><text class="s1" x="745" y="70">68999</text><text class="s0" x="985" y="61">168</text><text class="s1" x="985" y="70">70007</text>
<text class="od" x="505" y="79">1.5 OD</text>
</g>

<g id="row-23" transform="translate(0,2960)">
<use href="#frame"/>
<use href="#pC1" x="25"/><use href="#pC2" x="265"/><use href="#pV1" x="505"/><use href="#pV2" x="745"/>
<text class="tp" x="25" y="-14">♩=123</text><text class="tp" x="265" y="-14">♩=123.2</text><text class="tp" x="505" y="-14">♩=123.4</text><text class="tp" x="745" y="-14">♩=124.6</text>
<text class="mn" x="25" y="-3">89</text><text class="mn" x="265" y="-3">90</text><text class="mn" x="505" y="-3">91</text><text class="mn" x="745" y="-3">92</text>
<text x="565" y="-3">verse_3</text>
<text class="s0" x="265" y="61">136</text><text class="s1" x="265" y="70">70823</text><text class="s0" x="505" y="61">136</text><text class="s1" x="505" y="70">71639</text><text class="s0" x="745" y="61">175</text><text class="s1" x="745" y="70">72689</text><text class="s0" x="985" y="61">175</text><text class="s1" x="985" y="70">73739</text>
</g>

<g id="row-24" transform="translate(0,3090)">
<rect class="box" x="505" y="-5" width="196" height="58"/>
<use href="#frame"/>
<use href="#pV1" x="25"/><use href="#pV2" x="265"/><use href="#pV1s" x="505"/><use href="#pV2" x="745"/>
<text class="tp" x="25" y="-14">♩=124.5</text><text class="tp" x="265" y="-14">♩=124.7</text><text class="tp" x="505" y="-14">♩=123.6</text><text class="tp" x="745" y="-14">♩=124.3</text>
<text class="mn" x="25" y="-3">93</text><text class="mn" x="265" y="-3">94</text><text class="mn" x="505" y="-3">95</text><text class="mn" x="745" y="-3">96</text>
<text class="s0" x="265" y="61">175</text><text class="s1" x="265" y="70">74789</text><text class="s0" x="505" y="61">175</text><text class="s1" x="505" y="70">75839</text><text class="s0" x="745" y="61">175</text><text class="s1" x="745" y="70">76889</text><text class="s0" x="985" y="61">175</text><text class="s1" x="985" y="70">77939</text>
</g>

<g id="row-25" transform="translate(0,3220)">
<use href="#frame"/>
<use href="#pV1" x="25"/><use href="#pV2" x="265"/><use href="#nB" x="505" y="36.5"/>
<use href="#nY" x="835" y="24.5"/><use href="#nB" x="850" y="36.5"/><use href="#nO" x="857" y="48.5"/><use href="#nB" x="895" y="36.5"/><use href="#nY" x="925" y="24.5"/><use href="#nR" x="955" y="12.5"/>
<text class="tp" x="25" y="-14">♩=123</text><text class="tp" x="265" y="-14">♩=126.1</text><text class="tp" x="505" y="-14">♩=122.1</text><text class="tp" x="745" y="-14">♩=124.9</text>
<text class="mn" x="25" y="-3">97</text><text class="mn" x="265" y="-3">98</text><text class="mn" x="505" y="-3">99</text><text class="mn" x="745" y="-3">100</text>
<text class="s0" x="265" y="61">175</text><text class="s1" x="265" y="70">78989</text><text class="s0" x="505" y="61">175</text><text class="s1" x="505" y="70">80039</text><text class="s0" x="745" y="61">25</text><text class="s1" x="745" y="70">80189</text><text class="s0" x="985" y="61">150</text><text class="s1" x="985" y="70">81089</text>
</g>

<g id="row-26" transform="translate(0,3350)">
<rect class="box" x="505" y="-5" width="196" height="58"/>
<use href="#frame"/>
<use href="#pA" x="25"/><use href="#pB" x="265"/><use href="#pAs" x="505"/><use href="#pE" x="745"/>
<text class="tp" x="25" y="-14">♩=122.5</text><text class="tp" x="265" y="-14">♩=124.4</text><text class="tp" x="505" y="-14">♩=123.8</text><text class="tp" x="745" y="-14">♩=124.5</text>
<text class="mn" x="25" y="-3">101</text><text class="mn" x="265" y="-3">102</text><text class="mn" x="505" y="-3">103</text><text class="mn" x="745" y="-3">104</text>
<text class="s0" x="265" y="61">162</text><text class="s1" x="265" y="70">82061</text><text class="s0" x="505" y="61">127</text><text class="s1" x="505" y="70">82823</text><text class="s0" x="745" y="61">162</text><text class="s1" x="745" y="70">83795</text><text class="s0" x="985" y="61">162</text><text class="s1" x="985" y="70">84767</text>
<text class="od" x="745" y="79">1 OD</text><text class="od" x="985" y="79">0.25 OD</text>
</g>

<g id="row-27" transform="translate(0,3480)">
<use href="#frame"/>
<use href="#pA" x="25"/><use href="#pB2" x="265"/><use href="#pP1" x="505"/><use href="#pP2" x="745"/>
<text class="tp" x="25" y="-14">♩=125.7</text><text class="tp" x="265" y="-14">♩=121.7</text><text class="tp" x="505" y="-14">♩=123.3</text><text class="tp" x="745" y="-14">♩=124.5</text>
<text class="mn" x="25" y="-3">105</text><text class="mn" x="265" y="-3">106</text><text class="mn" x="505" y="-3">107</text><text class="mn" x="745" y="-3">108</text>
<text x="565" y="-3">prechorus_3</text>
<text class="s0" x="265" y="61">162</text><text class="s1" x="265" y="70">85739</text><text class="s0" x="505" y="61">127</text><text class="s1" x="505" y="70">86501</text><text class="s0" x="745" y="61">168</text><text class="s1" x="745" y="70">87509</text><text class="s0" x="985" y="61">168</text><text class="s1" x="985" y="70">88517</text>
</g>

<g id="row-28" transform="translate(0,3610)">
<use href="#frame"/>
<use href="#pQ3" x="25"/><use href="#pQ4" x="265"/><use href="#pP1" x="505"/><use href="#pP3" x="745"/>
<text class="tp" x="25" y="-14">♩=124.2</text><text class="tp" x="265" y="-14">♩=125</text><text class="tp" x="505" y="-14">♩=123.2</text><text class="tp" x="745" y="-14">♩=124.6</text>
<text class="mn" x="25" y="-3">109</text><text class="mn" x="265" y="-3">110</text><text class="mn" x="505" y="-3">111</text><text class="mn" x="745" y="-3">112</text>
<text class="s0" x="265" y="61">168</text><text class="s1" x="265" y="70">89525</text><text class="s0" x="505" y="61">209</text><text class="s1" x="505" y="70">90779</text><text class="s0" x="745" y="61">168</text><text class="s1" x="745" y="70">91787</text><text class="s0" x="985" y="61">168</text><text class="s1" x="985" y="70">92795</text>
</g>

<g id="row-29" transform="translate(0,3740)">
<rect class="box" x="25" y="-5" width="196" height="58"/>
<use href="#frame"/>
<use href="#pC1s" x="25"/><use href="#pC2" x="265"/><use href="#pA" x="505"/><use href="#pB" x="745"/>
<text class="tp" x="25" y="-14">♩=122.7</text><text class="tp" x="265" y="-14">♩=125.7</text><text class="tp" x="505" y="-14">♩=120.8</text><text class="tp" x="745" y="-14">♩=126.5</text>
<text class="mn" x="25" y="-3">113</text><text class="mn" x="265" y="-3">114</text><text class="mn" x="505" y="-3">115</text><text class="mn" x="745" y="-3">116</text>
<text x="85" y="-3">chorus_3</text>
<text class="s0" x="265" y="61">136</text><text class="s1" x="265" y="70">93611</text><text class="s0" x="505" y="61">136</text><text class="s1" x="505" y="70">94427</text><text class="s0" x="745" y="61">162</text><text class="s1" x="745" y="70">95399</text><text class="s0" x="985" y="61">127</text><text class="s1" x="985" y="70">96161</text>
<text class="od" x="265" y="79">3 OD</text>
</g>

<g id="row-30" transform="translate(0,3870)">
<use href="#frame"/>
<use href="#pA" x="25"/><use href="#pB" x="265"/><use href="#pA" x="505"/><use href="#pB" x="745"/>
<text class="tp" x="25" y="-14">♩=122.4</text><text class="tp" x="265" y="-14">♩=124.6</text><text class="tp" x="505" y="-14">♩=123.8</text><text class="tp" x="745" y="-14">♩=124.8</text>
<text class="mn" x="25" y="-3">117</text><text class="mn" x="265" y="-3">118</text><text class="mn" x="505" y="-3">119</text><text class="mn" x="745" y="-3">120</text>
<text class="s0" x="265" y="61">162</text><text class="s1" x="265" y="70">97133</text><text class="s0" x="505" y="61">127</text><text class="s1" x="505" y="70">97895</text><text class="s0" x="745" y="61">162</text><text class="s1" x="745" y="70">98867</text><text class="s0" x="985" y="61">127</text><text class="s1" x="985" y="70">99629</text>
</g>

<g id="row-31" transform="translate(0,4000)">
<rect class="box" x="25" y="-5" width="196" height="58"/>
<use href="#frame"/>
<use href="#pAs" x="25"/><use href="#pB" x="265"/><use href="#pA" x="505"/><use href="#pB" x="745"/>
<text class="tp" x="25" y="-14">♩=123.7</text><text class="tp" x="265" y="-14">♩=124.4</text><text class="tp" x="505" y="-14">♩=124.6</text><text class="tp" x="745" y="-14">♩=122.6</text>
<text class="mn" x="25" y="-3">121</text><text class="mn" x="265" y="-3">122</text><text class="mn" x="505" y="-3">123</text><text class="mn" x="745" y="-3">124</text>
<text class="s0" x="265" y="61">162</text><text class="s1" x="265" y="70">100601</text><text class="s0" x="505" y="61">127</text><text class="s1" x="505" y="70">101363</text><text class="s0" x="745" y="61">162</text><text class="s1" x="745" y="70">102335</text><text class="s0" x="985" y="61">127</text><text class="s1" x="985" y="70">103097</text>
<text class="od" x="265" y="79">1 OD</text><text class="od" x="505" y="79">0.25 OD</text>
</g>

<g id="row-32" transform="translate(0,4130)">
<use href="#frame"/>
<use href="#pA" x="25"/><use href="#pE" x="265"/><use href="#pA" x="505"/><use href="#pB" x="745"/>
<text class="tp" x="25" y="-14">♩=127.1</text><text class="tp" x="265" y="-14">♩=122.1</text><text class="tp" x="505" y="-14">♩=122.8</text><text class="tp" x="745" y="-14">♩=126.4</text>
<text class="mn" x="25" y="-3">125</text><text class="mn" x="265" y="-3">126</text><text class="mn" x="505" y="-3">127</text><text class="mn" x="745" y="-3">128</text>
<text x="565" y="-3">outro_a</text>
<text class="s0" x="265" y="61">162</text><text class="s1" x="265" y="70">104069</text><text class="s0" x="505" y="61">162</text><text class="s1" x="505" y="70">105041</text><text class="s0" x="745" y="61">162</text><text class="s1" x="745" y="70">106013</text><text class="s0" x="985" y="61">127</text><text class="s1" x="985" y="70">106775</text>
</g>

<g id="row-33" transform="translate(0,4260)">
<rect class="box" x="505" y="-5" width="210" height="58"/>
<use href="#frame"/>
<use href="#pA" x="25"/><use href="#pF" x="265"/><use href="#pAs" x="505"/><use href="#pB" x="745"/>
<text class="tp" x="25" y="-14">♩=122.1</text><text class="tp" x="265" y="-14">♩=123.4</text><text class="tp" x="505" y="-14">♩=121.6</text><text class="tp" x="745" y="-14">♩=125.1</text>
<text class="mn" x="25" y="-3">129</text><text class="mn" x="265" y="-3">130</text><text class="mn" x="505" y="-3">131</text><text class="mn" x="745" y="-3">132</text>
<text class="s0" x="265" y="61">162</text><text class="s1" x="265" y="70">107747</text><text class="s0" x="505" y="61">178</text><text class="s1" x="505" y="70">108815</text><text class="s0" x="745" y="61">162</text><text class="s1" x="745" y="70">109787</text><text class="s0" x="985" y="61">127</text><text class="s1" x="985" y="70">110549</text>
<text class="od" x="745" y="79">1 OD</text><text class="od" x="985" y="79">0.25 OD</text>
</g>

<g id="row-34" transform="translate(0,4390)">
<use href="#frame"/>
<use href="#pA" x="25"/><use href="#pF" x="265"/><use href="#pA" x="505"/><use href="#pB" x="745"/>
<text class="tp" x="25" y="-14">♩=123</text><text class="tp" x="265" y="-14">♩=126.1</text><text class="tp" x="505" y="-14">♩=121.7</text><text class="tp" x="745" y="-14">♩=127.6</text>
<text class="mn" x="25" y="-3">133</text><text class="mn" x="265" y="-3">134</text><text class="mn" x="505" y="-3">135</text><text class="mn" x="745" y="-3">136</text>
<text x="565" y="-3">outro_b</text>
<text class="s0" x="265" y="61">162</text><text class="s1" x="265" y="70">111521</text><text class="s0" x="505" y="61">178</text><text class="s1" x="505" y="70">112589</text><text class="s0" x="745" y="61">162</text><text class="s1" x="745" y="70">113561</text><text class="s0" x="985" y="61">127</text><text class="s1" x="985" y="70">114323</text>
</g>

<g id="row-35" transform="translate(0,4520)">
<use href="#frame"/>
<use href="#pA" x="25"/><use href="#pF" x="265"/><use href="#pA" x="505"/><use href="#pB" x="745"/>
<text class="tp" x="25" y="-14">♩=122.3</text><text class="tp" x="265" y="-14">♩=125.3</text><text class="tp" x="505" y="-14">♩=119.6</text><text class="tp" x="745" y="-14">♩=125.7</text>
<text class="mn" x="25" y="-3">137</text><text class="mn" x="265" y="-3">138</text><text class="mn" x="505" y="-3">139</text><text class="mn" x="745" y="-3">140</text>
<text class="s0" x="265" y="61">162</text><text class="s1" x="265" y="70">115295</text><text class="s0" x="505" y="61">178</text><text class="s1" x="505" y="70">116363</text><text class="s0" x="745" y="61">162</text><text class="s1" x="745" y="70">117335</text><text class="s0" x="985" y="61">127</text><text class="s1" x="985" y="70">118097</text>
</g>

<g id="row-36" transform="translate(0,4650)">
<use href="#frame"/>
<use href="#pA" x="25"/><use href="#pF" x="265"/><use href="#pA" x="505"/><use href="#pB" x="745"/>
<text class="tp" x="25" y="-14">♩=125.5</text><text class="tp" x="265" y="-14">♩=126.2</text><text class="tp" x="505" y="-14">♩=121.7</text><text class="tp" x="745" y="-14">♩=124.1</text>
<text class="mn" x="25" y="-3">141</text><text class="mn" x="265" y="-3">142</text><text class="mn" x="505" y="-3">143</text><text class="mn" x="745" y="-3">144</text>
<text x="565" y="-3">outro_c</text>
<text class="s0" x="265" y="61">162</text><text class="s1" x="265" y="70">119069</text><text class="s0" x="505" y="61">178</text><text class="s1" x="505" y="70">120137</text><text class="s0" x="745" y="61">162</text><text class="s1" x="745" y="70">121109</text><text class="s0" x="985" y="61">127</text><text class="s1" x="985" y="70">121871</text>
</g>

<g id="row-37" transform="translate(0,4780)">
<use href="#frame"/>
<use href="#pA" x="25"/><use href="#pF" x="265"/><use href="#pA" x="505"/><use href="#pB" x="745"/>
<text class="tp" x="25" y="-14">♩=124.3</text><text class="tp" x="265" y="-14">♩=124.7</text><text class="tp" x="505" y="-14">♩=122.6</text><text class="tp" x="745" y="-14">♩=125.5</text>
<text class="mn" x="25" y="-3">145</text><text class="mn" x="265" y="-3">146</text><text class="mn" x="505" y="-3">147</text><text class="mn" x="745" y="-3">148</text>
<text class="s0" x="265" y="61">162</text><text class="s1" x="265" y="70">122843</text><text class="s0" x="505" y="61">178</text><text class="s1" x="505" y="70">123911</text><text class="s0" x="745" y="61">162</text><text class="s1" x="745" y="70">124883</text><text class="s0" x="985" y="61">127</text><text class="s1" x="985" y="70">125645</text>
</g>

<g id="row-38" transform="translate(0,4910)">
<use href="#frame1"/>
<use href="#pA0" x="25"/>
<text class="mn" x="25" y="-3">149</text>
<text class="s0" x="265" y="61">125</text><text class="s1" x="265" y="70">126395</text>
</g>

<g id="footer">
<text class="mid" x="0" y="5038" style="fill:#888">http://charts.ajanata.com/rb/</text>
<text class="mid" x="0" y="5052" style="fill:#f00">WARNING: Work in progress. This information has NOT BEEN VERIFIED and MAY BE INCORRECT.</text>
<text class="mid" x="1005" y="5038" style="fill:#888;text-anchor:end">Generated at Fri, 26 Aug 2011 02:29:41 -0400.</text>
<text class="mid" x="1005" y="5052" style="fill:#888;text-anchor:end">Generated by ajanata's Chart Generator, r299.</text>
</g>
</svg>
